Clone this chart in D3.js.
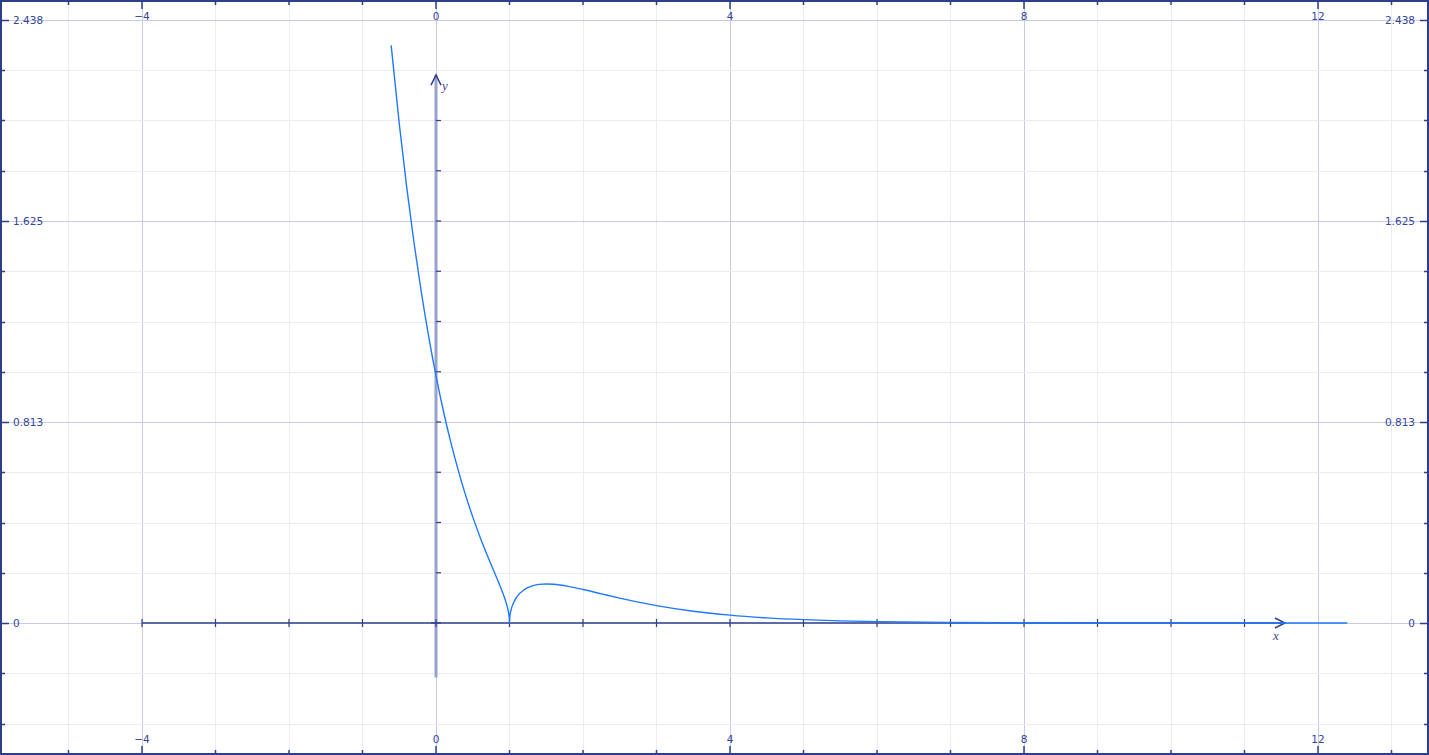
<!DOCTYPE html>
<html>
<head>
<meta charset="utf-8">
<script src="https://cdn.jsdelivr.net/npm/d3@7"></script>
<style>
  html, body { margin: 0; padding: 0; background: #fff; overflow: hidden; }
  svg { display: block; }
</style>
</head>
<body>
<div id="chart"></div>
<script>
// ── DONNÉES ───────────────────────────────────────────────────────────────
const xMajor = [-4, 0, 4, 8, 12];
const xMinor = [-5, -4, -3, -2, -1, 0, 1, 2, 3, 4, 5, 6, 7, 8, 9, 10, 11, 12, 13];
const xAxisTicks = [-4, -3, -2, -1, 0, 1, 2, 3, 4, 5, 6, 7, 8, 9, 10, 11];
const yMajor = [0, 0.8125, 1.625, 2.4375];
const yMajorLabels = ['0', '0.813', '1.625', '2.438'];
const yMinor = [-0.40625, -0.203125, 0, 0.203125, 0.40625, 0.609375, 0.8125, 1.015625, 1.21875,
                1.421875, 1.625, 1.828125, 2.03125, 2.234375, 2.4375];
const yAxisTicks = [0.203125, 0.40625, 0.609375, 0.8125, 1.015625, 1.21875, 1.421875, 1.625, 1.828125, 2.03125];

// courbe
const curveX = [-0.61, -0.5, -0.4, -0.3, -0.2, -0.1, 0, 0.1, 0.2, 0.3, 0.4, 0.5, 0.6, 0.7, 0.8, 0.85,
                0.9, 0.95, 0.98, 0.99, 0.999, 1, 1.001, 1.01, 1.02, 1.05, 1.1, 1.2, 1.3, 1.4, 1.5, 1.6,
                1.8, 2, 2.25, 2.5, 2.75, 3, 3.5, 4, 4.5, 5, 5.5, 6, 7, 8, 9, 10, 11, 12.4];
const curveY = [2.335, 2.019, 1.765, 1.539, 1.338, 1.159, 1.0, 0.858, 0.732, 0.620, 0.519, 0.429, 0.347,
                0.272, 0.201, 0.1655, 0.1286, 0.0865, 0.0531, 0.0372, 0.0116, 0, 0.0116, 0.0364, 0.0510,
                0.0782, 0.1053, 0.1347, 0.1493, 0.156, 0.1578, 0.1564, 0.1479, 0.1353, 0.1178, 0.1005,
                0.0846, 0.0704, 0.0477, 0.0317, 0.0208, 0.0135, 0.0087, 0.0055, 0.0022, 0.0009, 0.0003,
                0.0001, 0.00005, 0.00001];

// ── MISE EN PAGE ──────────────────────────────────────────────────────────
const W = 1429, H = 755;
const FRAME = '#2b3f8c', MAJ = '#c6cae5', MIN = '#ebebf3', TXT = '#34469a';
const FONT = 'Tahoma, "DejaVu Sans", sans-serif';

const svg = d3.select('#chart').append('svg').attr('width', W).attr('height', H);
const x = d3.scaleLinear().domain([-4, 12]).range([142, 1318]);
const y = d3.scaleLinear().domain([0, 2.4375]).range([623, 20]);

// Grille
svg.append('g').selectAll('line').data(xMinor).enter().append('line')
  .attr('x1', d => x(d)).attr('x2', d => x(d)).attr('y1', 0).attr('y2', H)
  .attr('stroke', d => xMajor.includes(d) ? MAJ : MIN).attr('stroke-width', 1)
  .attr('shape-rendering', 'crispEdges');
svg.append('g').selectAll('line').data(yMinor).enter().append('line')
  .attr('x1', 0).attr('x2', W).attr('y1', d => Math.round(y(d)) + 0.5).attr('y2', d => Math.round(y(d)) + 0.5)
  .attr('stroke', d => yMajor.includes(d) ? MAJ : MIN).attr('stroke-width', 1);

// Cadre + graduations du cadre
svg.append('rect').attr('x', 1).attr('y', 1).attr('width', W - 2).attr('height', H - 2)
  .attr('fill', 'none').attr('stroke', FRAME).attr('stroke-width', 2);
const fr = svg.append('g').attr('stroke', FRAME).attr('stroke-width', 1.5);
xMinor.forEach(d => {
  const len = xMajor.includes(d) ? 9 : 5;
  fr.append('line').attr('x1', x(d)).attr('x2', x(d)).attr('y1', 0).attr('y2', len);
  fr.append('line').attr('x1', x(d)).attr('x2', x(d)).attr('y1', H).attr('y2', H - len);
});
yMinor.forEach(d => {
  const len = yMajor.includes(d) ? 9 : 5, yy = Math.round(y(d)) + 0.5;
  fr.append('line').attr('x1', 0).attr('x2', len).attr('y1', yy).attr('y2', yy);
  fr.append('line').attr('x1', W).attr('x2', W - len).attr('y1', yy).attr('y2', yy);
});

// Étiquettes du cadre
const lab = svg.append('g').attr('fill', TXT).attr('font-family', FONT).attr('font-size', '10.5px');
xMajor.forEach(d => {
  const t = d < 0 ? '\u2212' + Math.abs(d) : String(d);
  lab.append('text').attr('x', x(d)).attr('y', 20).attr('text-anchor', 'middle').text(t);
  lab.append('text').attr('x', x(d)).attr('y', 743).attr('text-anchor', 'middle').text(t);
});
yMajor.forEach((d, i) => {
  lab.append('text').attr('x', 13).attr('y', y(d) + 4).text(yMajorLabels[i]);
  lab.append('text').attr('x', 1415).attr('y', y(d) + 4).attr('text-anchor', 'end').text(yMajorLabels[i]);
});

// Axes
const ax = svg.append('g');
ax.append('line').attr('x1', x(0)).attr('x2', x(0)).attr('y1', y(-0.22)).attr('y2', y(2.215))
  .attr('stroke', '#9aa2cc').attr('stroke-width', 3);
ax.append('line').attr('x1', x(-4)).attr('x2', x(11.55)).attr('y1', y(0)).attr('y2', y(0))
  .attr('stroke', '#5d6aa6').attr('stroke-width', 2);
ax.selectAll('.xt').data(xAxisTicks).enter().append('line')
  .attr('x1', d => x(d)).attr('x2', d => x(d)).attr('y1', y(0) - 4).attr('y2', y(0) + 4)
  .attr('stroke', FRAME).attr('stroke-width', 1.2);
ax.selectAll('.yt').data(yAxisTicks).enter().append('line')
  .attr('x1', x(0)).attr('x2', x(0) + 5).attr('y1', d => y(d)).attr('y2', d => y(d))
  .attr('stroke', FRAME).attr('stroke-width', 1.2);
ax.append('line').attr('x1', x(0) - 5).attr('x2', x(0) + 5).attr('y1', y(0)).attr('y2', y(0))
  .attr('stroke', FRAME).attr('stroke-width', 1.2);
// flèches
const ay = y(2.215), axx = x(11.55);
ax.append('path').attr('d', `M${x(0) - 5},${ay + 10} L${x(0)},${ay} L${x(0) + 5},${ay + 10}`)
  .attr('fill', 'none').attr('stroke', '#34418a').attr('stroke-width', 1.5);
ax.append('path').attr('d', `M${axx - 10},${y(0) - 5} L${axx},${y(0)} L${axx - 10},${y(0) + 5}`)
  .attr('fill', 'none').attr('stroke', '#34418a').attr('stroke-width', 1.5);
ax.append('text').attr('x', x(0) + 6).attr('y', ay + 15).attr('font-family', '"Liberation Serif", serif')
  .attr('font-style', 'italic').attr('font-size', '13px').attr('fill', '#4a3f8a').text('y');
ax.append('text').attr('x', axx - 12).attr('y', y(0) + 17).attr('font-family', '"Liberation Serif", serif')
  .attr('font-style', 'italic').attr('font-size', '13px').attr('fill', '#4a3f8a').text('x');

// Courbe
const pts = curveX.map((v, i) => [v, curveY[i]]);
const line = d3.line().x(d => x(d[0])).y(d => y(d[1])).curve(d3.curveMonotoneX);
svg.append('path').datum(pts).attr('d', line)
  .attr('fill', 'none').attr('stroke', '#1f78ff').attr('stroke-width', 1.4);
</script>
</body>
</html>
